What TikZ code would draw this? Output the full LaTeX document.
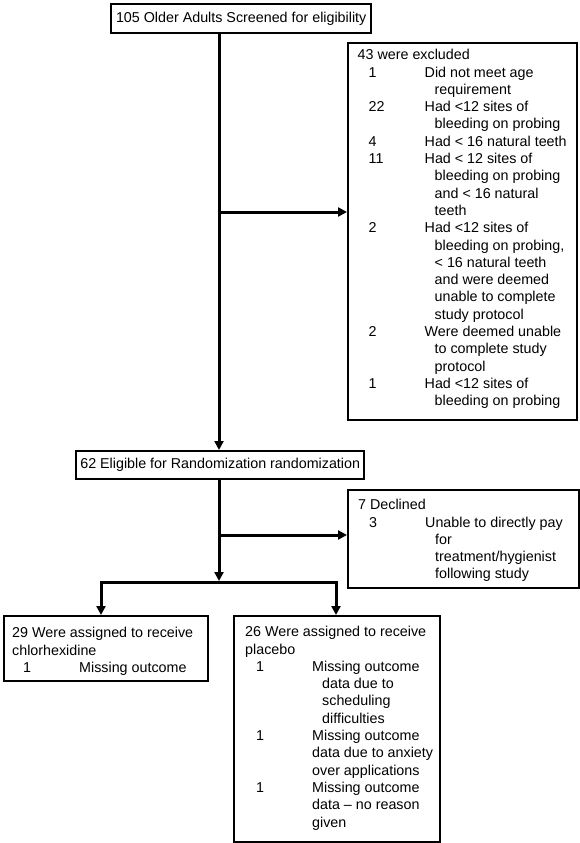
\documentclass[tikz,border=0pt]{standalone}
\usepackage{fontspec}
\setmainfont{Liberation Sans}
\usetikzlibrary{arrows.meta,calc}
\newcommand\fst{\rule{0pt}{12pt}}
\newcommand\nr[2]{\hspace*{11pt}\makebox[56pt][l]{#1}#2}
\newcommand\ct[1]{\hspace*{77pt}#1}
\newcommand\cu[1]{\hspace*{67pt}#1}
\begin{document}
\begin{tikzpicture}[x=1pt,y=-1pt,
  boxst/.style={draw, line width=2.4pt, inner sep=0pt, anchor=north west,
    font=\fontsize{14.3}{17.3}\selectfont},
  txtst/.style={inner sep=0pt, anchor=north west, align=left,
    font=\fontsize{14.3}{17.3}\selectfont},
  arr/.style={line width=3pt, -{Triangle[length=9pt,width=9pt]}},
  ln/.style={line width=3pt}]
\useasboundingbox[fill=white] (0,0) rectangle (579,843);

% boxes
\node[boxst, minimum width=260pt, minimum height=29pt] (b1) at (110,3) {105 Older Adults Screened for eligibility};
\node[boxst, minimum width=229pt, minimum height=377pt] (excl) at (347,42) {};
\node[boxst, minimum width=288pt, minimum height=28pt] (b2) at (75,450) {62 Eligible for Randomization randomization};
\node[boxst, minimum width=231pt, minimum height=98pt] (decl) at (347,489) {};
\node[boxst, minimum width=204pt, minimum height=65pt] (chl) at (3,615) {};
\node[boxst, minimum width=206pt, minimum height=226pt] (plac) at (233,615) {};

% texts
\node[txtst] (exclt) at (357.5,47.5) {\fst 43 were excluded\\
\nr{1}{Did not meet age}\\
\ct{requirement}\\
\nr{22}{Had <12 sites of}\\
\ct{bleeding on probing}\\
\nr{4}{Had < 16 natural teeth}\\
\nr{11}{Had < 12 sites of}\\
\ct{bleeding on probing}\\
\ct{and < 16 natural}\\
\ct{teeth}\\
\nr{2}{Had <12 sites of}\\
\ct{bleeding on probing,}\\
\ct{< 16 natural teeth}\\
\ct{and were deemed}\\
\ct{unable to complete}\\
\ct{study protocol}\\
\nr{2}{Were deemed unable}\\
\ct{to complete study}\\
\ct{protocol}\\
\nr{1}{Had <12 sites of}\\
\ct{bleeding on probing}};

\node[txtst] (declt) at (358,497.5) {\fst 7 Declined\\
\nr{3}{Unable to directly pay}\\
\ct{for}\\
\ct{treatment/hygienist}\\
\ct{following study}};

\node[txtst] (chlt) at (12,625.5) {\fst 29 Were assigned to receive\\
chlorhexidine\\
\nr{1}{Missing outcome}};

\node[txtst] (platt) at (245,624.5) {\fst 26 Were assigned to receive\\
placebo\\
\nr{1}{Missing outcome}\\
\ct{data due to}\\
\ct{scheduling}\\
\ct{difficulties}\\
\nr{1}{Missing outcome}\\
\cu{data due to anxiety}\\
\cu{over applications}\\
\nr{1}{Missing outcome}\\
\cu{data – no reason}\\
\cu{given}};

% connectors
\coordinate (j1) at (219,212);
\coordinate (j2) at (219,535);
\coordinate (split) at (219,581);
\coordinate (sl) at (101,582);
\coordinate (sr) at (336,582);

\draw[arr] (j1 |- b1.south) -- (j1 |- b2.north);
\draw[arr] (j1) -- (j1 -| excl.west);
\draw[arr] (j2 |- b2.south) -- (split);
\draw[arr] (j2) -- (j2 -| decl.west);
\draw[arr] (split |- sl) -- (sl) -- (sl |- chl.north);
\draw[arr] (split |- sr) -- (sr) -- (sr |- plac.north);
\end{tikzpicture}
\end{document}
